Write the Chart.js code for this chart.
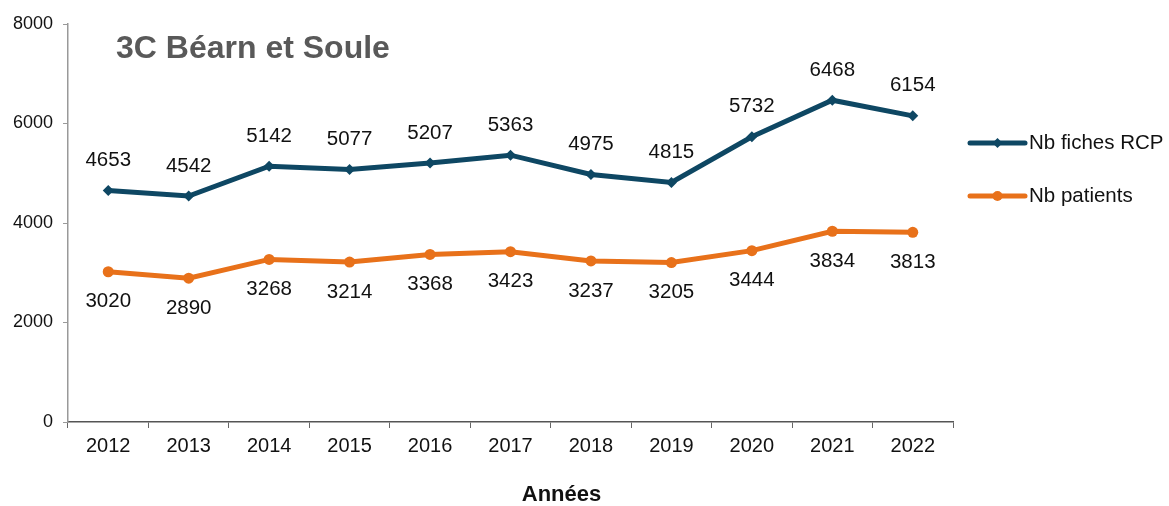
<!DOCTYPE html>
<html>
<head>
<meta charset="utf-8">
<script src="https://cdn.jsdelivr.net/npm/chart.js@4.4.1/dist/chart.umd.min.js"></script>
<style>
  html,body{margin:0;padding:0;background:#fff}
  #wrap{width:1169px;height:506px;position:relative}
</style>
</head>
<body>
<div id="wrap"><canvas id="ch"></canvas></div>
<script>
/* ---------- données ---------- */
const years=['2012','2013','2014','2015','2016','2017','2018','2019','2020','2021','2022'];
const fichesRCP=[4653,4542,5142,5077,5207,5363,4975,4815,5732,6468,6154];
const patients=[3020,2890,3268,3214,3368,3423,3237,3205,3444,3834,3813];
const yTicks=[0,2000,4000,6000,8000];

const FONT='"Liberation Sans", Arial, Helvetica, sans-serif';
const BLUE='#0E4763', ORANGE='#E8711A';

/* valeurs au-dessus (RCP) / en dessous (patients) */
const valueLabels={
  id:'valueLabels',
  afterDatasetsDraw(chart){
    const ctx=chart.ctx;
    ctx.save();
    ctx.font='20.5px '+FONT;
    ctx.fillStyle='#111';
    ctx.textAlign='center';
    ctx.textBaseline='middle';
    chart.data.datasets.forEach((ds,i)=>{
      const dy=i===0?-30:30;
      chart.getDatasetMeta(i).data.forEach((pt,j)=>{
        ctx.fillText(String(ds.data[j]),pt.x,pt.y+dy);
      });
    });
    ctx.restore();
  }
};

/* titre, légende, titre de l'axe */
const decor={
  id:'decor',
  afterDraw(chart){
    const ctx=chart.ctx, a=chart.chartArea;
    ctx.save();
    ctx.font='bold 32px '+FONT;
    ctx.fillStyle='#595959';
    ctx.textBaseline='middle';
    ctx.textAlign='left';
    ctx.fillText('3C Béarn et Soule',a.left+48,a.top+25);

    ctx.font='bold 22px '+FONT;
    ctx.fillStyle='#111';
    ctx.textAlign='center';
    ctx.fillText('Années',(a.left+a.right)/2+51,495);

    ctx.font='20.5px '+FONT;
    ctx.textAlign='left';
    chart.data.datasets.forEach((ds,i)=>{
      const y=a.top+119+i*53, x0=a.right+17, x1=a.right+72;
      ctx.strokeStyle=ds.borderColor;
      ctx.lineWidth=5;
      ctx.lineCap='round';
      ctx.beginPath();ctx.moveTo(x0,y);ctx.lineTo(x1,y);ctx.stroke();
      ctx.fillStyle=ds.borderColor;
      const xm=(x0+x1)/2;
      ctx.beginPath();
      if(ds.pointStyle==='rectRot'){
        ctx.moveTo(xm,y-5);ctx.lineTo(xm+5,y);ctx.lineTo(xm,y+5);ctx.lineTo(xm-5,y);ctx.closePath();
      }else{
        ctx.arc(xm,y,5,0,Math.PI*2);
      }
      ctx.fill();
      ctx.fillStyle='#111';
      ctx.fillText(ds.label,x1+4,y);
    });
    ctx.restore();
  }
};

new Chart(document.getElementById('ch'),{
  type:'line',
  data:{labels:years,datasets:[
    {label:'Nb fiches RCP',data:fichesRCP,borderColor:BLUE,backgroundColor:BLUE,borderWidth:5,pointStyle:'rectRot',pointRadius:5.5,pointBorderWidth:0,tension:0},
    {label:'Nb patients',data:patients,borderColor:ORANGE,backgroundColor:ORANGE,borderWidth:5,pointStyle:'circle',pointRadius:5.5,pointBorderWidth:0,tension:0}
  ]},
  options:{
    responsive:true,maintainAspectRatio:false,animation:false,
    layout:{padding:{left:0,top:24,right:216,bottom:0}},
    plugins:{legend:{display:false},tooltip:{enabled:false}},
    scales:{
      x:{
        offset:true,
        grid:{drawOnChartArea:false,drawTicks:true,tickLength:6,color:'#666',offset:true},
        border:{color:'#555',width:1.5},
        ticks:{color:'#111',font:{family:FONT,size:20},padding:6,maxRotation:0},
        afterFit:s=>{s.height=84;}
      },
      y:{
        min:0,max:8000,
        afterBuildTicks:s=>{s.ticks=yTicks.map(v=>({value:v}));},
        grid:{drawOnChartArea:false,drawTicks:true,tickLength:5,color:'#999'},
        border:{color:'#999',width:1.5},
        ticks:{color:'#111',font:{family:FONT,size:18},padding:10,callback:v=>String(v)},
        afterFit:s=>{s.width=68;}
      }
    }
  },
  plugins:[valueLabels,decor]
});
</script>
</body>
</html>
